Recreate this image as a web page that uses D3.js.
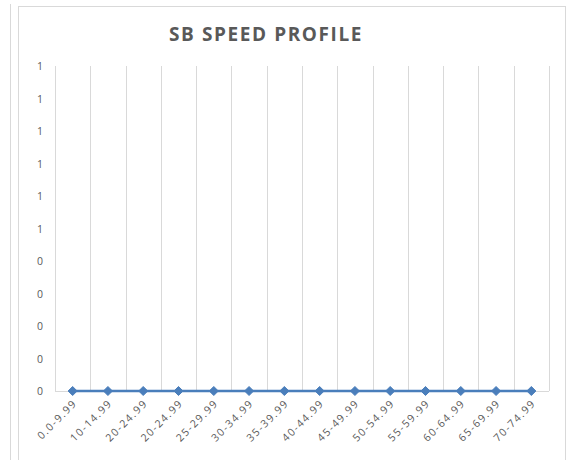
<!DOCTYPE html>
<html><head><meta charset="utf-8">
<script src="https://cdn.jsdelivr.net/npm/d3@7"></script>
<style>
body{margin:0;background:#fff;}
text{font-family:"Open Sans","Liberation Sans",sans-serif;}
</style></head>
<body>
<svg id="c" width="572" height="460"></svg>
<script>
const categories = ["0.0-9.99","10-14.99","20-24.99","20-24.99","25-29.99","30-34.99","35-39.99","40-44.99","45-49.99","50-54.99","55-59.99","60-64.99","65-69.99","70-74.99"];
const values = [0,0,0,0,0,0,0,0,0,0,0,0,0,0];
const yTicks = [0,0.1,0.2,0.3,0.4,0.5,0.6,0.7,0.8,0.9,1.0];
const title = "SB SPEED PROFILE";

(function(){
const svg = d3.select("#c");
svg.append("line").attr("x1",10.5).attr("x2",10.5).attr("y1",4).attr("y2",460).attr("stroke","#d9d9d9");
svg.append("rect").attr("x",18.5).attr("y",6.5).attr("width",547).attr("height",460).attr("fill","#fff").attr("stroke","#d9d9d9");

const pL=55, pR=549, pT=66, pB=391;
const x = d3.scaleBand().domain(d3.range(categories.length)).range([pL,pR]);
const y = d3.scaleLinear().domain([0,1]).range([pB,pT]);

const bounds = d3.range(categories.length+1).map(i=> i<categories.length ? x(i) : x(categories.length-1)+x.bandwidth());
svg.append("g").selectAll("line").data(bounds).join("line")
  .attr("x1",d=>Math.round(d)+0.5).attr("x2",d=>Math.round(d)+0.5)
  .attr("y1",pT).attr("y2",pB).attr("stroke","#d9d9d9").attr("stroke-width",1);
svg.append("line").attr("x1",pL).attr("x2",pR).attr("y1",pB+0.5).attr("y2",pB+0.5).attr("stroke","#d9d9d9");

svg.append("g").selectAll("text").data(yTicks).join("text")
  .attr("x",43).attr("y",d=>y(d)+4).attr("text-anchor","end")
  .attr("font-size",10.5).attr("fill","#595959")
  .text(d=>d3.format(".0f")(d));

svg.append("g").selectAll("text").data(categories).join("text")
  .attr("transform",(d,i)=>`translate(${x(i)+x.bandwidth()/2+5},${pB+13}) rotate(-45)`)
  .attr("text-anchor","end").attr("font-size",10.5).attr("letter-spacing",1.5).attr("fill","#595959")
  .text(d=>d);

const cx = i => x(i)+x.bandwidth()/2;
svg.append("path").datum(values)
  .attr("d",d3.line().x((d,i)=>cx(i)).y(d=>y(d)))
  .attr("fill","none").attr("stroke","#4a7ebb").attr("stroke-width",2.5);
svg.append("g").selectAll("path").data(values).join("path")
  .attr("transform",(d,i)=>`translate(${cx(i)},${y(d)})`)
  .attr("d",d3.symbol(d3.symbolDiamond2,52)())
  .attr("fill","#4a7ebb").attr("stroke","#4a7ebb").attr("stroke-width",1);

svg.append("text").attr("x",266).attr("y",41).attr("text-anchor","middle")
  .attr("font-size",19).attr("font-weight","bold").attr("letter-spacing",1.6).attr("fill","#595959")
  .text(title);
})();
</script>
</body></html>
